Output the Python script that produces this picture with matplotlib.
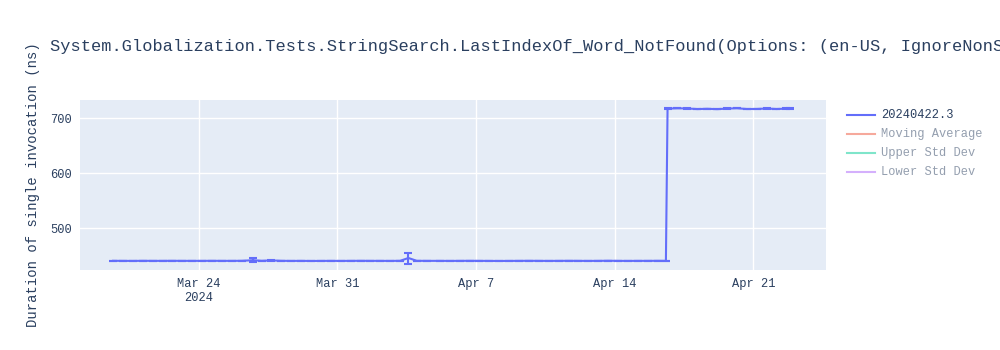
import pandas as pd
import matplotlib.pyplot as plt
from matplotlib.lines import Line2D

# run timestamps and measured durations (ns)
run_times = [
    '2024-03-19 16:00', '2024-03-20 04:00', '2024-03-20 16:00', '2024-03-21 04:00',
    '2024-03-21 16:00', '2024-03-22 04:00', '2024-03-22 16:00', '2024-03-23 04:00',
    '2024-03-23 16:00', '2024-03-24 04:00', '2024-03-24 16:00', '2024-03-25 04:00',
    '2024-03-25 16:00', '2024-03-26 04:00', '2024-03-26 18:00', '2024-03-27 04:00',
    '2024-03-27 16:00', '2024-03-28 04:00', '2024-03-28 16:00', '2024-03-29 04:00',
    '2024-03-29 16:00', '2024-03-30 04:00', '2024-03-30 16:00', '2024-03-31 04:00',
    '2024-03-31 16:00', '2024-04-01 04:00', '2024-04-01 16:00', '2024-04-02 04:00',
    '2024-04-02 16:00', '2024-04-03 04:00', '2024-04-03 14:00', '2024-04-04 00:00',
    '2024-04-04 12:00', '2024-04-05 04:00', '2024-04-05 16:00', '2024-04-06 04:00',
    '2024-04-06 16:00', '2024-04-07 04:00', '2024-04-07 16:00', '2024-04-08 04:00',
    '2024-04-08 16:00', '2024-04-09 04:00', '2024-04-09 16:00', '2024-04-10 04:00',
    '2024-04-10 16:00', '2024-04-11 04:00', '2024-04-11 16:00', '2024-04-12 04:00',
    '2024-04-12 16:00', '2024-04-13 04:00', '2024-04-13 16:00', '2024-04-14 04:00',
    '2024-04-14 16:00', '2024-04-15 04:00', '2024-04-15 16:00', '2024-04-16 04:00',
    '2024-04-16 14:00', '2024-04-16 16:00', '2024-04-17 04:00', '2024-04-17 16:00',
    '2024-04-18 04:00', '2024-04-18 16:00', '2024-04-19 04:00', '2024-04-19 16:00',
    '2024-04-20 04:00', '2024-04-20 16:00', '2024-04-21 04:00', '2024-04-21 16:00',
    '2024-04-22 04:00', '2024-04-22 16:00', '2024-04-22 20:00',
]
durations = [
    440.9, 440.8, 440.7, 440.9, 440.8, 440.8, 440.9, 440.8,
    440.8, 440.8, 440.9, 440.8, 440.8, 440.9, 442.0, 440.9,
    441.6, 440.9, 440.7, 440.8, 440.6, 440.7, 440.8, 440.7,
    440.8, 440.9, 440.8, 440.8, 440.7, 440.9, 446.0, 440.9,
    440.8, 440.8, 440.7, 440.8, 440.9, 440.8, 440.7, 440.6,
    440.7, 440.8, 440.9, 440.8, 440.7, 440.8, 440.9, 440.8,
    440.7, 440.8, 441.0, 440.8, 440.7, 440.8, 440.8, 440.9,
    440.8, 717.6, 718.2, 717.9, 716.8, 717.3, 716.7, 717.6,
    718.3, 716.9, 717.0, 717.8, 716.9, 717.6, 718.1,
]
errors = [
    0.2, 0.2, 0.2, 0.2, 0.2, 0.2, 0.2, 0.2,
    0.2, 0.2, 0.2, 0.2, 0.2, 0.2, 4.0, 0.2,
    0.2, 0.2, 0.2, 0.2, 0.2, 0.2, 0.2, 0.2,
    0.2, 0.2, 0.2, 0.2, 0.2, 0.2, 10.0, 0.2,
    0.2, 0.2, 0.2, 0.2, 0.2, 0.2, 0.2, 0.2,
    0.2, 0.2, 0.2, 0.2, 0.2, 0.2, 0.2, 0.2,
    0.2, 0.2, 0.2, 0.2, 0.2, 0.2, 0.2, 0.2,
    0.2, 0.3, 0.3, 0.3, 0.3, 0.3, 0.3, 0.3,
    0.3, 0.3, 0.3, 0.3, 0.3, 0.3, 0.3,
]

legend_labels = ['20240422.3', 'Moving Average', 'Upper Std Dev', 'Lower Std Dev']
legend_colors = ['#636efa', '#EF553B', '#00cc96', '#ab63fa']
tick_dates = ['2024-03-24', '2024-03-31', '2024-04-07', '2024-04-14', '2024-04-21']
tick_labels = ['Mar 24\n2024', 'Mar 31', 'Apr 7', 'Apr 14', 'Apr 21']

title = ('System.Globalization.Tests.StringSearch.LastIndexOf_Word_NotFound'
         '(Options: (en-US, IgnoreNonSpace))')

plt.rcParams['font.family'] = ['Liberation Mono', 'DejaVu Sans Mono']
txt_color = '#2a3f5f'

x = pd.to_datetime(run_times)

fig = plt.figure(figsize=(10, 3.5), dpi=100)
ax = fig.add_axes([0.08, 0.2286, 0.746, 0.4857])
ax.set_facecolor('#E5ECF6')

ax.errorbar(x, durations, yerr=errors, color=legend_colors[0], lw=1.5,
            elinewidth=1.5, capsize=2.9, capthick=1.5, zorder=3)

ax.set_xlim(pd.Timestamp('2024-03-18 00:00'), pd.Timestamp('2024-04-24 16:00'))
ax.set_ylim(424.2, 733.3)
ax.set_yticks([500, 600, 700])
ax.set_xticks(pd.to_datetime(tick_dates))
ax.set_xticklabels(tick_labels)
ax.grid(True, color='white', lw=1)
ax.set_axisbelow(True)
for s in ax.spines.values():
    s.set_visible(False)
ax.tick_params(length=0, labelsize=8.64, colors=txt_color, pad=6)
ax.set_ylabel('Duration of single invocation (ns)', fontsize=10, color=txt_color)
ax.yaxis.set_label_coords(-0.054, 0.5, transform=ax.transAxes)

fig.text(0.05, 1 - 46 / 350, title, fontsize=12.24, color=txt_color,
         ha='left', va='center')

# legend (only first trace visible, others toggled off)
for i, (lab, col) in enumerate(zip(legend_labels, legend_colors)):
    yy = 1 - (115 + i * 19) / 350
    alpha = 1 if i == 0 else 0.5
    fig.add_artist(Line2D([0.847, 0.875], [yy, yy], color=col, lw=1.5,
                          alpha=alpha, transform=fig.transFigure))
    fig.text(0.881, yy, lab, fontsize=8.64, color=txt_color, alpha=alpha,
             ha='left', va='center')

fig.savefig('out.png')
